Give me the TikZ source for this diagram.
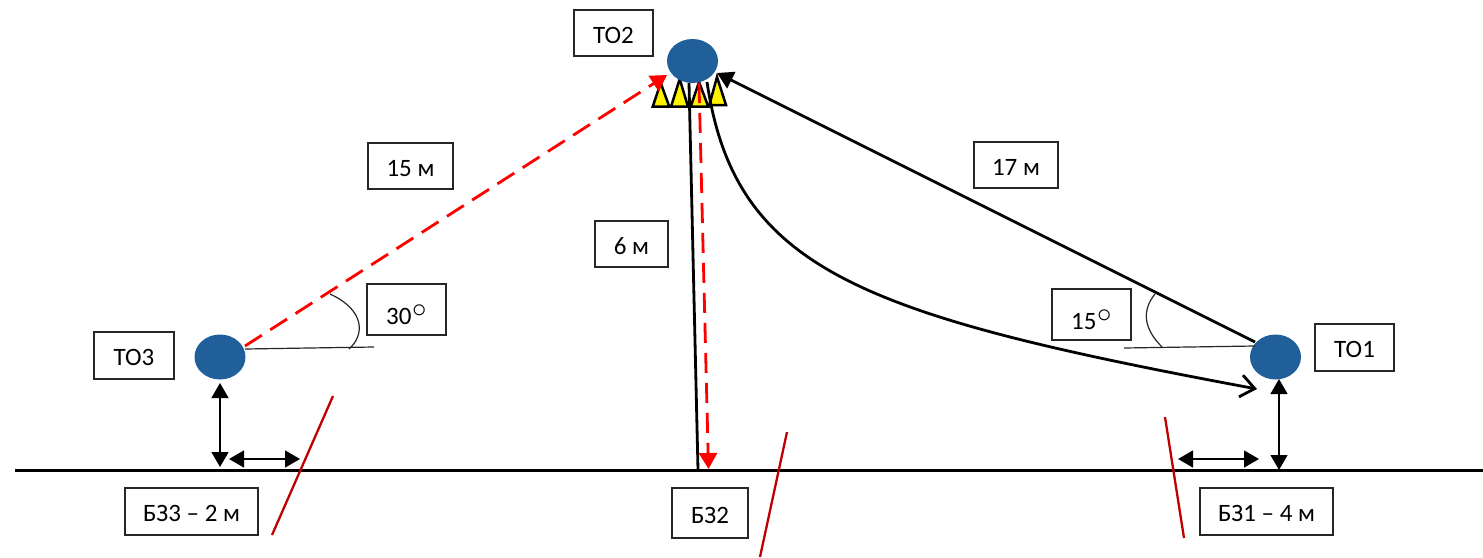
\documentclass[tikz,border=0pt]{standalone}
\usepackage{fontspec}
\setmainfont{Carlito}
\usetikzlibrary{arrows.meta}
\definecolor{dotblue}{HTML}{215F9A}
\definecolor{cutred}{HTML}{C00000}
\tikzset{
  px/.style={x=0.5pt,y=-0.5pt},
  lbl/.style={draw=black!85,line width=0.6pt,fill=white,inner sep=0pt,font=\fontsize{12.5}{14}\selectfont,anchor=center},
  dot/.style={fill=dotblue,draw=none},
  tri/.style={fill=yellow,draw=black,line width=1.25pt,line join=miter},
  mainline/.style={draw=black,line width=1.4pt},
  reddash/.style={draw=red,line width=1.4pt,dash pattern=on 10pt off 5pt},
  redhead/.style={-{Triangle[length=8pt,width=9pt,fill=red]}},
  blackhead/.style={-{Triangle[length=8pt,width=9pt,fill=black]}},
  dim/.style={draw=black,line width=0.65pt,{Triangle[length=7.5pt,width=8.5pt,fill=black]}-{Triangle[length=7.5pt,width=8.5pt,fill=black]}},
  thin line/.style={draw=black!85,line width=0.6pt},
  cut/.style={draw=cutred,line width=1.15pt},
}
\begin{document}
\begin{tikzpicture}[px]
\useasboundingbox (0,0) rectangle (1483,557);
% coordinates
\coordinate (G1) at (15,470.5);
\coordinate (G2) at (1483,470.5);
% triangles
\draw[tri] (652.7,106.7) -- (660.7,83) -- (669.3,106.7) -- cycle;
\draw[tri] (671,106.7) -- (679.7,79) -- (688,106.7) -- cycle;
\draw[tri] (690.7,106.7) -- (699,82) -- (708.3,106.7) -- cycle;
\draw[tri] (709.3,105) -- (717,77) -- (726,105) -- cycle;
% ellipses
\path[dot] (692.5,61) ellipse [x radius=25.5,y radius=22];
\path[dot] (220,357) ellipse [x radius=25.5,y radius=22.5];
\path[dot] (1275.5,357) ellipse [x radius=25.5,y radius=22.5];
\coordinate (to2) at (692.5,61);
\coordinate (to3) at (220,357);
\coordinate (to1) at (1275.5,357);
% ground
\draw[draw=black,line width=1.6pt] (G1) -- (G2);
% connectors
\coordinate (a1) at (689,83);
\coordinate (a2) at (698,470);
\draw[mainline] (a1) -- (a2);
\coordinate (b1) at (245,346);
\coordinate (b2) at (667,75);
\draw[reddash,redhead] (b1) -- (b2);
\coordinate (c1) at (699,83);
\coordinate (c2) at (708.5,469);
\draw[reddash,redhead] (c1) -- (c2);
\coordinate (d1) at (1255,342);
\coordinate (d2) at (717,73);
\draw[mainline,blackhead] (d1) -- (d2);
\coordinate (e1) at (707,82);
\coordinate (e2) at (1257,389);
\draw[mainline,-{Straight Barb[length=7pt,width=11pt,line width=1.4pt]}] (e1) .. controls (735,270) and (860,315) .. (e2);
% angle marks
\coordinate (f1) at (245,349);
\coordinate (f2) at (374,347);
\draw[thin line] (f1) -- (f2);
\coordinate (h1) at (330,294);
\coordinate (h2) at (349,349);
\draw[thin line] (h1) .. controls (365,310) and (365,335) .. (h2);
\coordinate (i1) at (1124,348);
\coordinate (i2) at (1255,346);
\draw[thin line] (i1) -- (i2);
\coordinate (j1) at (1155,294);
\coordinate (j2) at (1162,347);
\draw[thin line] (j1) .. controls (1142,310) and (1143,328) .. (j2);
% dimensions
\coordinate (k1) at (220,383);
\coordinate (k2) at (220,467);
\draw[dim] (k1) -- (k2);
\coordinate (l1) at (229,459);
\coordinate (l2) at (300,459);
\draw[dim] (l1) -- (l2);
\coordinate (m1) at (1279,379);
\coordinate (m2) at (1279,470);
\draw[dim] (m1) -- (m2);
\coordinate (n1) at (1178,459);
\coordinate (n2) at (1259,459);
\draw[dim] (n1) -- (n2);
% red cuts
\coordinate (p1) at (333,396);
\coordinate (p2) at (272,535);
\draw[cut] (p1) -- (p2);
\coordinate (q1) at (787,432);
\coordinate (q2) at (760,557);
\draw[cut] (q1) -- (q2);
\coordinate (r1) at (1165,417);
\coordinate (r2) at (1184,538);
\draw[cut] (r1) -- (r2);
% labels
\newcommand{\lab}[6]{\node[lbl,minimum width=#4*0.5pt-#2*0.5pt,minimum height=#5*0.5pt-#3*0.5pt] (#1) at ({(#2+#4)/2},{(#3+#5)/2}) {\raisebox{-5pt}[0pt][0pt]{#6}};}
\newcommand{\degmark}{\hspace{0.4pt}\raisebox{1.25pt}{\fontsize{15}{15}\selectfont$\circ$}}
\lab{tTO2}{574}{10}{653}{56}{ТО2}
\lab{tTO3}{94}{332}{174}{379}{ТО3}
\lab{tTO1}{1315}{324}{1394}{371}{ТО1}
\lab{t15m}{368}{143}{453}{189}{15 м}
\lab{t17m}{974}{142}{1058}{188}{17 м}
\lab{t6m}{595}{221}{668}{267}{6 м}
\lab{t30}{367}{284}{446}{335}{\raisebox{-2.25pt}{30}\degmark}
\lab{t15}{1052}{289}{1131}{340}{\raisebox{-2.25pt}{15}\degmark}
\lab{tB3}{125}{488}{258}{535}{БЗ3 – 2 м}
\lab{tB2}{672}{488}{748}{538}{БЗ2}
\lab{tB1}{1200}{488}{1333}{535}{БЗ1 – 4 м}
\end{tikzpicture}
\end{document}
